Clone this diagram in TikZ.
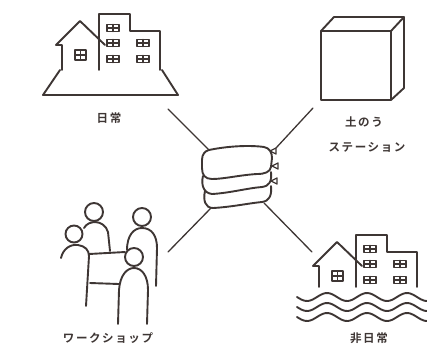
\documentclass[tikz,border=0pt]{standalone}
\usepackage{fontspec}
\newfontfamily\jpfont[LetterSpace=14, UprightFont={* Bold}]{Noto Sans CJK JP}
\usetikzlibrary{positioning}
\definecolor{ink}{HTML}{3E3634}

\tikzset{
  % house with a block of flats behind it, origin at the roof top
  pics/town/.style={code={
    \draw (-24,24) -- (0,0) -- (25,24);
    \draw (-24,24) -- (-18,24) -- (-18,#1);
    \draw [line width=1.4pt] (-5,29) rectangle (6,39) (0.5,29) -- (0.5,39) (-5,34) -- (6,34);
    \draw (19,#1) -- (19,-7) -- (50,-7) -- (50,10) -- (80,10) -- (80,#1);
    \foreach \wx/\wy in {33/7, 33/22, 33/38, 63/22, 63/38}
      \draw [line width=1.4pt] (\wx-6,\wy-3.5) rectangle (\wx+6,\wy+3.5)
            (\wx,\wy-3.5) -- (\wx,\wy+3.5) (\wx-6,\wy) -- (\wx+6,\wy);
  }}
}

\begin{document}
\begin{tikzpicture}[x=1pt, y=-1pt, color=ink,
                    every path/.append style={line width=1.9pt, line cap=round, line join=round},
                    iconlabel/.style={font=\jpfont\fontsize{11.5}{13}\selectfont, inner sep=0pt},
                    link/.style={line width=1.3pt},
                    node distance=13pt]
    \useasboundingbox (0,0) rectangle (427,351);

    % everyday: houses on the ground
    \pic at (80,21) {town=49};
    \draw (60,70) -- (43,95) -- (178,95) -- (162,70);
    \node [iconlabel] (nichijo) at (109,118) {日常};

    % sandbag station: a box
    \draw (321,31) rectangle (391,100);
    \draw (321,31) -- (334,17) -- (404,17) -- (404,88) -- (391,100);
    \draw (391,31) -- (404,17);
    \node [iconlabel] (donou) at (364,122) {土のう};
    \node [iconlabel, below=of donou, xshift=3pt] (station) {ステーション};

    % emergency: houses in the flood
    \pic at (337,242) {town=45};
    \foreach \wy in {297,307,317}
        \draw plot [domain=297:427, samples=60, smooth] (\x, {\wy + 4*sin(9*(\x-297))});
    \node [iconlabel] (hijo) at (369,338) {非日常};

    % workshop: four people round a sheet
    \draw (94,212) circle [radius=9];
    \draw (74,234) circle [radius=8.5];
    \draw (142,217) circle [radius=9];
    \draw (134,257) circle [radius=9];
    \draw (84,228) .. controls (88,220) and (104,219) .. (108,232) -- (110,251);
    \draw (61,258) .. controls (63,249) and (70,244) .. (78,245)
          .. controls (85,246) and (89,250) .. (89,256) -- (86,306);
    \draw (127,250) .. controls (127,235) and (134,228) .. (142,228)
          .. controls (152,228) and (157,236) .. (157,248) -- (156,286);
    \draw (118,324) -- (119,290) .. controls (120,275) and (127,268) .. (134,268)
          .. controls (142,268) and (148,276) .. (148,290) -- (147,324);
    \draw (89,254) -- (125,252);
    \draw (90,283) -- (119,284);
    \node [iconlabel] (workshop) at (108,338) {ワークショップ};

    % stack of sandbags in the middle
    \draw (209,150) .. controls (228,146) and (250,145) .. (264,147)
          .. controls (270,148) and (272,153) .. (272,158) -- (271,167)
          .. controls (270,172) and (265,174) .. (257,174)
          .. controls (240,175) and (224,179) .. (212,179)
          .. controls (205,179) and (202,175) .. (202,168) -- (202,160)
          .. controls (202,154) and (205,151) .. (209,150) -- cycle;
    \draw (203,176) .. controls (201,184) and (203,193) .. (212,194)
          .. controls (230,193) and (248,188) .. (262,187)
          .. controls (269,186) and (272,182) .. (271,172);
    \draw (205,191) .. controls (203,200) and (205,208) .. (213,208)
          .. controls (232,207) and (250,203) .. (262,202)
          .. controls (269,201) and (272,196) .. (271,186);
    \foreach \tx/\ty in {273/151, 275/166, 274/181}
        \draw [line width=1.3pt] (\tx-3,\ty) -- (\tx+3,\ty-3) -- (\tx+3,\ty+3) -- cycle;

    % line ends
    \coordinate (hub-nw) at (209,150);
    \coordinate (hub-ne) at (276,148);
    \coordinate (hub-sw) at (211,208);
    \coordinate (hub-se) at (264,203);
    \coordinate (nichijo-end) at (168,109);
    \coordinate (station-end) at (313,108);
    \coordinate (workshop-end) at (168,252);
    \coordinate (hijo-end) at (312,252);

    % Draw the links
    \draw [link] (nichijo-end)  -- (hub-nw);
    \draw [link] (station-end)  -- (hub-ne);
    \draw [link] (workshop-end) -- (hub-sw);
    \draw [link] (hijo-end)     -- (hub-se);
\end{tikzpicture}
\end{document}
